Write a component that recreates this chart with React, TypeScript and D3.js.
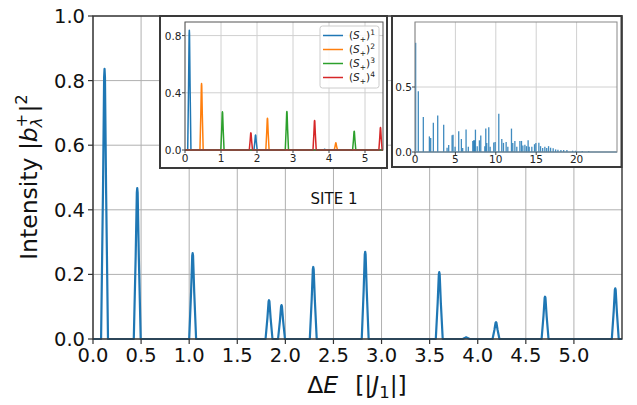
import React from "react";
import * as d3 from "d3";

// ---------- data ----------
const mainPeakX = [0.12, 0.46, 1.036, 1.83, 1.96, 2.29, 2.83, 3.6, 3.88, 4.19, 4.7, 5.43];
const mainPeakY = [0.836, 0.467, 0.266, 0.12, 0.105, 0.223, 0.27, 0.207, 0.005, 0.052, 0.131, 0.157];
const mainXTicks = [0, 0.5, 1, 1.5, 2, 2.5, 3, 3.5, 4, 4.5, 5];
const mainYTicks = [0, 0.2, 0.4, 0.6, 0.8, 1.0];

const s1X = [0.12, 1.96, 3.88];
const s1Y = [0.838, 0.105, 0.005];
const s2X = [0.46, 2.29, 4.19];
const s2Y = [0.465, 0.222, 0.05];
const s3X = [1.04, 2.83, 4.7];
const s3Y = [0.267, 0.27, 0.131];
const s4X = [1.83, 3.6, 5.43];
const s4Y = [0.12, 0.207, 0.157];
const seriesNames = ["1", "2", "3", "4"];
const seriesColors = ["#1f77b4", "#ff7f0e", "#2ca02c", "#d62728"];
const inset1XTicks = [0, 1, 2, 3, 4, 5];
const inset1YTicks = [0, 0.4, 0.8];

const inset2X = [0.08, 0.41, 1.03, 1.78, 1.94, 2.27, 2.81, 3.55, 3.97, 4.17, 4.59, 4.71, 4.96, 5.41, 5.74, 5.9, 6.32, 6.6, 7.15, 7.27, 7.36, 7.48, 7.7, 7.97, 8.14, 8.64, 8.76, 8.88, 9.13, 9.3, 9.75, 9.92, 10.37, 10.74, 10.95, 11.28, 11.49, 11.94, 12.1, 12.36, 12.6, 12.98, 13.18, 13.35, 13.6, 13.8, 14.0, 14.13, 14.46, 14.79, 14.96, 15.33, 15.54, 15.8, 16.07, 16.3, 16.53, 16.78, 17.1, 17.4, 17.69, 18.06, 18.4, 18.8, 19.5, 19.9, 20.7, 21.5];
const inset2Y = [0.84, 0.467, 0.27, 0.12, 0.107, 0.225, 0.28, 0.21, 0.033, 0.054, 0.128, 0.133, 0.04, 0.159, 0.1, 0.03, 0.174, 0.04, 0.085, 0.09, 0.09, 0.172, 0.045, 0.09, 0.126, 0.045, 0.18, 0.07, 0.19, 0.04, 0.074, 0.077, 0.295, 0.1, 0.07, 0.077, 0.04, 0.18, 0.07, 0.085, 0.04, 0.085, 0.085, 0.05, 0.055, 0.045, 0.09, 0.04, 0.04, 0.06, 0.07, 0.072, 0.045, 0.03, 0.04, 0.03, 0.045, 0.033, 0.028, 0.02, 0.018, 0.016, 0.016, 0.016, 0.01, 0.01, 0.008, 0.005];
const inset2XTicks = [0, 5, 10, 15, 20];
const inset2YTicks = [0, 0.5];

// ---------- helpers ----------
const FONT = "DejaVu Sans, Liberation Sans, sans-serif";

function peakPoints(xs: number[], ys: number[], xmin: number, xmax: number, hw: number): [number, number][] {
  const idx = xs.map((_, i) => i).sort((a, b) => xs[a] - xs[b]);
  const pts: [number, number][] = [[xmin, 0]];
  idx.forEach((i) => {
    pts.push([xs[i] - hw, 0]);
    pts.push([xs[i] - hw * 0.45, ys[i] * 0.55]);
    pts.push([xs[i] - hw * 0.12, ys[i] * 0.97]);
    pts.push([xs[i], ys[i]]);
    pts.push([xs[i] + hw * 0.12, ys[i] * 0.97]);
    pts.push([xs[i] + hw * 0.45, ys[i] * 0.55]);
    pts.push([xs[i] + hw, 0]);
  });
  pts.push([xmax, 0]);
  return pts;
}

export default function App() {
  const W = 637, H = 405;
  // main axes
  const L = 93, R = 622, T = 16, B = 339;
  const x = d3.scaleLinear().domain([0, 5.5]).range([L, R]);
  const y = d3.scaleLinear().domain([0, 1]).range([B, T]);
  const mainLine = d3.line<[number, number]>().x((d) => x(d[0])).y((d) => y(d[1]));
  const mainPath = mainLine(peakPoints(mainPeakX, mainPeakY, 0, 5.5, 0.036)) || "";

  // inset 1
  const i1 = { L: 185, R: 383, T: 22, B: 150 };
  const x1 = d3.scaleLinear().domain([0, 5.5]).range([i1.L, i1.R]);
  const y1 = d3.scaleLinear().domain([0, 0.895]).range([i1.B, i1.T]);
  const line1 = d3.line<[number, number]>().x((d) => x1(d[0])).y((d) => y1(d[1]));
  const sX = [s1X, s2X, s3X, s4X];
  const sY = [s1Y, s2Y, s3Y, s4Y];

  // inset 2
  const i2 = { L: 415, R: 617, T: 22, B: 152 };
  const x2 = d3.scaleLinear().domain([0, 25]).range([i2.L, i2.R]);
  const y2 = d3.scaleLinear().domain([0, 1.0]).range([i2.B, i2.T]);

  const gridC = "#b0b0b0";
  const spine = "#333";

  return (
    <svg width={W} height={H} style={{ display: "block", position: "absolute", left: 0, top: 0, background: "#fff" }} fontFamily={FONT}>
      <rect x={0} y={0} width={W} height={H} fill="#fff" />
      {/* main grid */}
      {mainXTicks.map((t) => (
        <line key={"gx" + t} x1={x(t)} x2={x(t)} y1={T} y2={B} stroke={gridC} strokeWidth={1} />
      ))}
      {mainYTicks.map((t) => (
        <line key={"gy" + t} x1={L} x2={R} y1={y(t)} y2={y(t)} stroke={gridC} strokeWidth={1} />
      ))}
      {/* main line */}
      <path d={mainPath} fill="none" stroke="#1f77b4" strokeWidth={2.2} strokeLinejoin="round" />
      {/* spines */}
      <rect x={L} y={T} width={R - L} height={B - T} fill="none" stroke={spine} strokeWidth={1.4} />
      {/* ticks */}
      {mainXTicks.map((t) => (
        <g key={"tx" + t}>
          <line x1={x(t)} x2={x(t)} y1={B} y2={B + 5} stroke={spine} strokeWidth={1.2} />
          <text x={x(t)} y={362} fontSize={19.5} textAnchor="middle" fill="#111">{t.toFixed(1)}</text>
        </g>
      ))}
      {mainYTicks.map((t) => (
        <g key={"ty" + t}>
          <line x1={L - 5} x2={L} y1={y(t)} y2={y(t)} stroke={spine} strokeWidth={1.2} />
          <text x={85} y={y(t) + 7} fontSize={19.5} textAnchor="end" fill="#111">{t.toFixed(1)}</text>
        </g>
      ))}
      {/* axis labels */}
      <text x={357} y={393} fontSize={23.5} textAnchor="middle" fill="#111">
        <tspan>Δ</tspan>
        <tspan fontStyle="italic">E</tspan>
        <tspan dx={17}>[|</tspan>
        <tspan fontStyle="italic">J</tspan>
        <tspan fontSize={16.5} dy={5}>1</tspan>
        <tspan dy={-5}>|]</tspan>
      </text>
      <text transform="translate(37,177) rotate(-90)" x={0} y={0} fontSize={23.5} textAnchor="middle" fill="#111">
        <tspan>Intensity |</tspan>
        <tspan fontStyle="italic">b</tspan>
        <tspan fontSize={16.5} fontStyle="italic" dy={5}>λ</tspan>
        <tspan fontSize={16.5} dx={-10} dy={-15}>+</tspan>
        <tspan dy={10} dx={1}>|</tspan>
        <tspan fontSize={16.5} dy={-10}>2</tspan>
      </text>
      <text x={334} y={204} fontSize={15} textAnchor="middle" fill="#111">SITE 1</text>

      {/* ---------- inset 1 ---------- */}
      <rect x={160} y={16} width={227} height={152} fill="#fff" stroke="#3a3a3a" strokeWidth={2} />
      {inset1XTicks.map((t) => (
        <line key={"i1gx" + t} x1={x1(t)} x2={x1(t)} y1={i1.T} y2={i1.B} stroke="#d0d0d0" strokeWidth={1} />
      ))}
      {inset1YTicks.map((t) => (
        <line key={"i1gy" + t} x1={i1.L} x2={i1.R} y1={y1(t)} y2={y1(t)} stroke="#d0d0d0" strokeWidth={1} />
      ))}
      {sX.map((xs, k) => (
        <path key={"s" + k} d={line1(peakPoints(xs, sY[k], 0, 5.5, 0.045)) || ""} fill="none" stroke={seriesColors[k]} strokeWidth={1.5} strokeLinejoin="round" />
      ))}
      <rect x={i1.L} y={i1.T} width={i1.R - i1.L} height={i1.B - i1.T} fill="none" stroke="#555" strokeWidth={1} />
      {inset1XTicks.map((t) => (
        <g key={"i1tx" + t}>
          <line x1={x1(t)} x2={x1(t)} y1={i1.B} y2={i1.B + 3} stroke="#444" />
          <text x={x1(t)} y={162} fontSize={10.5} textAnchor="middle" fill="#222">{t}</text>
        </g>
      ))}
      {inset1YTicks.map((t) => (
        <g key={"i1ty" + t}>
          <line x1={i1.L - 3} x2={i1.L} y1={y1(t)} y2={y1(t)} stroke="#444" />
          <text x={181.5} y={y1(t) + 4} fontSize={10.5} textAnchor="end" fill="#222">{t.toFixed(1)}</text>
        </g>
      ))}
      {/* legend */}
      <rect x={320} y={26} width={59} height={62} rx={2.5} fill="#fff" fillOpacity={0.85} stroke="#cccccc" strokeWidth={1} />
      {seriesNames.map((n, k) => {
        const ly = 35.5 + k * 14;
        return (
          <g key={"lg" + n}>
            <line x1={323} x2={343} y1={ly} y2={ly} stroke={seriesColors[k]} strokeWidth={1.5} />
            <text x={349} y={ly + 3.8} fontSize={10.5} fill="#222">
              <tspan>(</tspan>
              <tspan fontStyle="italic">S</tspan>
              <tspan fontSize={7.5} dy={2.5}>+</tspan>
              <tspan dy={-2.5}>)</tspan>
              <tspan fontSize={7.5} dy={-4.5}>{n}</tspan>
            </text>
          </g>
        );
      })}

      {/* ---------- inset 2 ---------- */}
      <rect x={392} y={16} width={229.5} height={151} fill="#fff" stroke="#3a3a3a" strokeWidth={2} />
      {inset2XTicks.map((t) => (
        <line key={"i2gx" + t} x1={x2(t)} x2={x2(t)} y1={i2.T} y2={i2.B} stroke="#d0d0d0" strokeWidth={1} />
      ))}
      {inset2YTicks.map((t) => (
        <line key={"i2gy" + t} x1={i2.L} x2={i2.R} y1={y2(t)} y2={y2(t)} stroke="#d0d0d0" strokeWidth={1} />
      ))}
      <line x1={i2.L} x2={i2.R} y1={y2(0)} y2={y2(0)} stroke="#1f77b4" strokeWidth={1.2} />
      {inset2X.map((v, k) => (
        <line key={"sp" + k} x1={x2(v)} x2={x2(v)} y1={y2(0)} y2={y2(inset2Y[k])} stroke="#1f77b4" strokeWidth={1.3} strokeOpacity={0.85} />
      ))}
      <rect x={i2.L} y={i2.T} width={i2.R - i2.L} height={i2.B - i2.T} fill="none" stroke="#888" strokeWidth={1} />
      {inset2XTicks.map((t) => (
        <g key={"i2tx" + t}>
          <line x1={x2(t)} x2={x2(t)} y1={i2.B} y2={i2.B + 3} stroke="#444" />
          <text x={x2(t)} y={163} fontSize={10.5} textAnchor="middle" fill="#222">{t}</text>
        </g>
      ))}
      {inset2YTicks.map((t) => (
        <g key={"i2ty" + t}>
          <line x1={i2.L - 3} x2={i2.L} y1={y2(t)} y2={y2(t)} stroke="#444" />
          <text x={412} y={y2(t) + 4} fontSize={10.5} textAnchor="end" fill="#222">{t.toFixed(1)}</text>
        </g>
      ))}
    </svg>
  );
}
